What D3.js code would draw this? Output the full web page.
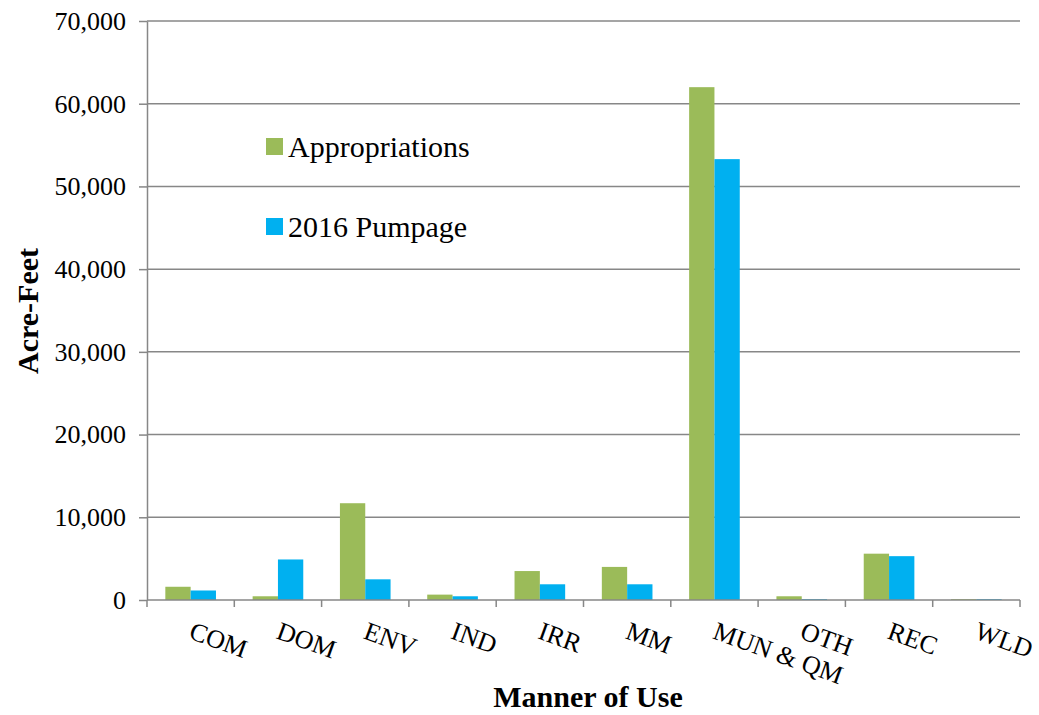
<!DOCTYPE html>
<html>
<head>
<meta charset="utf-8">
<script src="https://cdn.jsdelivr.net/npm/d3@7"></script>
<style>
  html, body { margin: 0; padding: 0; background: #fff; }
  svg { display: block; }
  svg text { font-family: "Liberation Serif", "Times New Roman", serif !important; }
</style>
</head>
<body>
<svg id="chart" width="1039" height="715"></svg>
<script>
const categories = ["COM", "DOM", "ENV", "IND", "IRR", "MM", "MUN & QM", "OTH", "REC", "WLD"];
const appropriations = [1600, 450, 11700, 650, 3500, 4000, 62000, 450, 5600, 100];
const pumpage2016 = [1150, 4900, 2500, 450, 1900, 1900, 53300, 100, 5300, 100];
const seriesNames = ["Appropriations", "2016 Pumpage"];
const seriesColors = ["#9BBB59", "#00B0F0"];
const yTicks = [0, 10000, 20000, 30000, 40000, 50000, 60000, 70000];

(function () {
const svg = d3.select("#chart");
const mLeft = 147, mRight = 1020, mTop = 21, mBottom = 600;

const x0 = d3.scaleBand().domain(categories).range([mLeft, mRight]).paddingInner(0.42).paddingOuter(0.21);
const x1 = d3.scaleBand().domain(seriesNames).range([0, x0.bandwidth()]);
const y = d3.scaleLinear().domain([0, 70000]).range([mBottom, mTop]);
const color = d3.scaleOrdinal().domain(seriesNames).range(seriesColors);

// gridlines
svg.append("g").selectAll("line").data(yTicks.filter(d => d > 0)).join("line")
  .attr("x1", mLeft).attr("x2", mRight)
  .attr("y1", d => y(d)).attr("y2", d => y(d))
  .attr("stroke", "#878787").attr("stroke-width", 1.5);

// bars
const rows = categories.map((c, i) => ({ cat: c, vals: [appropriations[i], pumpage2016[i]] }));
const groups = svg.append("g").selectAll("g").data(rows).join("g")
  .attr("transform", d => `translate(${x0(d.cat)},0)`);
groups.selectAll("rect").data(d => d.vals.map((v, j) => ({ name: seriesNames[j], v })))
  .join("rect")
  .attr("x", d => x1(d.name))
  .attr("width", x1.bandwidth())
  .attr("y", d => y(d.v))
  .attr("height", d => y(0) - y(d.v))
  .attr("fill", d => color(d.name));

// y axis
const yAxis = d3.axisLeft(y).tickValues(yTicks).tickSize(8).tickSizeOuter(0)
  .tickFormat(d3.format(","));
const gy = svg.append("g").attr("transform", `translate(${mLeft},0)`).call(yAxis);
gy.attr("font-family", null);
gy.select(".domain").attr("stroke", "#878787").attr("stroke-width", 1.5);
gy.selectAll(".tick line").attr("stroke", "#878787").attr("stroke-width", 1.5);
gy.selectAll(".tick text").attr("x", -21).attr("font-size", 26).attr("fill", "#000");

// x axis line and boundary ticks
const boundaries = d3.range(categories.length + 1).map(i => mLeft + i * x0.step());
svg.append("line").attr("x1", mLeft).attr("x2", mRight).attr("y1", mBottom).attr("y2", mBottom)
  .attr("stroke", "#878787").attr("stroke-width", 1.5);
svg.append("g").selectAll("line").data(boundaries).join("line")
  .attr("x1", d => d).attr("x2", d => d).attr("y1", mBottom).attr("y2", mBottom + 7)
  .attr("stroke", "#878787").attr("stroke-width", 1.5);

// category labels (rotated)
svg.append("g").selectAll("text").data(categories).join("text")
  .attr("transform", d => `translate(${x0(d) + x0.bandwidth() / 2 - 3},638) rotate(20)`)
  .attr("text-anchor", "start")
  .attr("font-size", 26)
  .attr("fill", "#000")
  .text(d => d);

// axis titles
svg.append("text")
  .attr("transform", `translate(38,311) rotate(-90)`)
  .attr("text-anchor", "middle")
  .attr("font-size", 30).attr("font-weight", "bold")
  .text("Acre-Feet");
svg.append("text")
  .attr("x", 588).attr("y", 707)
  .attr("text-anchor", "middle")
  .attr("font-size", 30).attr("font-weight", "bold")
  .text("Manner of Use");

// legend
const legend = svg.append("g").selectAll("g").data(seriesNames).join("g")
  .attr("transform", (d, i) => `translate(266,${138 + i * 80})`);
legend.append("rect").attr("width", 17).attr("height", 17).attr("fill", d => color(d));
legend.append("text").attr("x", 22).attr("y", 18.5).attr("font-size", 30).attr("fill", "#000").text(d => d);
})();
</script>
</body>
</html>
